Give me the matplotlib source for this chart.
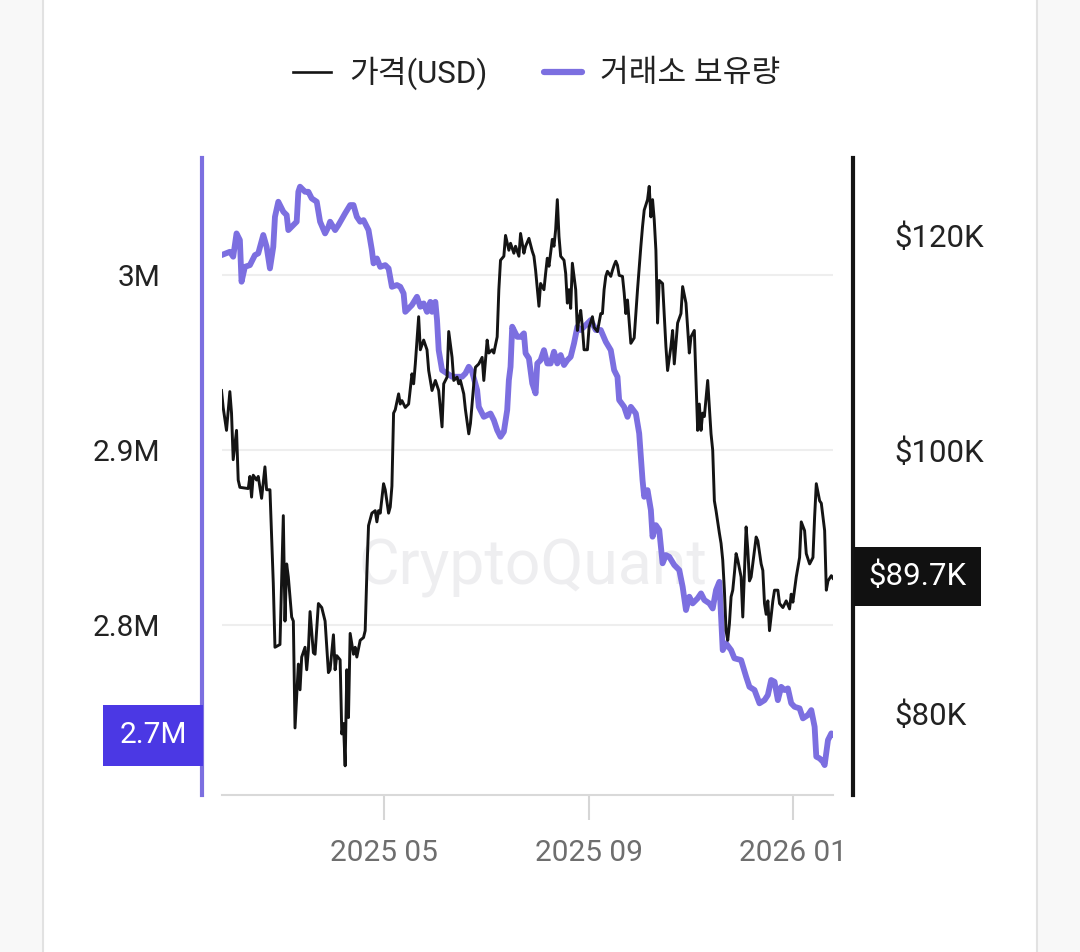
import matplotlib
matplotlib.use('Agg')
import matplotlib.pyplot as plt
import matplotlib.dates as mdates
from matplotlib.ticker import FixedLocator, FuncFormatter, NullLocator
from matplotlib.patches import Rectangle
from matplotlib.lines import Line2D
import pandas as pd

plt.rcParams['font.family'] = ['Roboto', 'Noto Sans CJK KR', 'DejaVu Sans']

# ---------------- data ----------------
BASE_DATE = pd.Timestamp('2025-01-01')  # day numbers below are days since this date

price_day = [23, 24, 26, 28, 29, 30, 32, 33, 34, 39, 40, 41, 42, 44, 45, 47, 49, 50, 52, 54,
             55, 58, 60, 61, 62, 63, 65, 66, 67, 69, 70, 71, 73, 74, 75, 76, 78, 79, 81, 83,
             85, 87, 88, 90, 91, 92, 94, 95, 96, 97, 98, 99, 100, 102, 103, 104, 106, 108, 109, 110,
             111, 113, 115, 116, 117, 118, 120, 121, 123, 124, 125, 126, 127, 129, 130, 131, 133, 135, 137, 138,
             139, 141, 142, 144, 146, 147, 149, 151, 153, 155, 156, 158, 159, 161, 162, 164, 165, 166, 168, 169,
             171, 172, 174, 175, 177, 179, 180, 182, 183, 185, 186, 188, 189, 190, 192, 193, 195, 196, 198, 199,
             201, 202, 204, 205, 207, 209, 210, 211, 213, 214, 216, 217, 218, 219, 221, 222, 223, 224, 225, 226,
             228, 229, 230, 231, 232, 233, 235, 236, 237, 238, 239, 240, 242, 243, 245, 246, 248, 250, 251, 252,
             253, 254, 256, 257, 258, 259, 260, 261, 263, 264, 265, 266, 268, 270, 271, 272, 274, 275, 276, 278,
             279, 280, 281, 282, 283, 284, 285, 287, 289, 290, 292, 293, 294, 296, 298, 299, 301, 303, 304, 306,
             308, 309, 310, 311, 312, 314, 316, 317, 318, 319, 321, 322, 323, 324, 325, 326, 327, 328, 329, 330,
             331, 332, 334, 335, 337, 338, 339, 340, 342, 343, 344, 346, 347, 348, 349, 350, 351, 353, 354, 356,
             357, 359, 361, 363, 364, 365, 367, 369, 370, 372, 373, 375, 377, 378, 379, 381, 382, 384, 385, 386,
             388, 389]
price_k = [105.2, 103.7, 101.7, 105.1, 103.2, 99.2, 101.7, 97.5, 96.9, 96.8, 97.8, 96.1, 97.9, 97.5, 97.8, 96.0, 98.6, 96.7, 96.7, 89.3,
           84.6, 84.8, 94.6, 86.5, 90.8, 89.8, 86.8, 86.5, 79.0, 83.4, 81.6, 83.9, 84.6, 83.0, 84.4, 87.2, 84.2, 84.1, 87.8, 87.5,
           86.5, 82.8, 83.0, 85.5, 83.0, 84.0, 83.7, 78.6, 79.3, 76.5, 83.0, 79.7, 85.6, 84.1, 84.6, 83.9, 85.1, 85.3, 85.8, 90.1,
           93.8, 94.8, 95.0, 94.1, 95.0, 94.8, 97.2, 96.7, 94.8, 95.3, 97.0, 103.2, 103.5, 104.9, 104.0, 104.3, 103.7, 104.0, 106.7, 105.8,
           107.6, 112.0, 108.9, 109.8, 108.9, 107.0, 105.2, 106.1, 105.2, 102.0, 105.8, 106.4, 110.6, 108.2, 106.1, 106.4, 105.8, 106.1, 104.9, 103.5,
           101.4, 102.3, 105.8, 107.3, 107.6, 108.2, 106.1, 109.8, 108.6, 108.9, 108.6, 110.1, 114.6, 117.5, 117.9, 120.0, 118.5, 119.2, 118.2, 118.9,
           117.9, 120.2, 118.2, 118.9, 119.7, 118.4, 117.9, 116.5, 113.0, 115.2, 114.6, 116.2, 117.7, 116.9, 119.6, 118.9, 120.6, 123.7, 119.9, 117.9,
           117.5, 116.2, 113.3, 114.6, 112.8, 117.2, 114.6, 110.7, 111.8, 112.6, 111.0, 108.9, 108.9, 111.0, 112.0, 111.0, 110.6, 112.3, 112.3, 114.6,
           115.9, 116.4, 115.9, 116.5, 117.0, 117.4, 117.0, 116.0, 115.9, 114.3, 112.3, 113.6, 109.5, 110.0, 112.3, 114.6, 118.9, 120.9, 122.6, 123.7,
           125.1, 121.9, 123.7, 121.6, 118.5, 111.4, 115.5, 115.2, 109.2, 107.0, 109.2, 110.7, 107.6, 111.4, 112.3, 114.9, 113.3, 108.6, 110.1, 110.7,
           101.7, 104.0, 101.7, 103.2, 102.9, 106.1, 101.4, 100.0, 95.8, 95.0, 93.2, 92.4, 91.1, 88.8, 85.8, 85.1, 86.3, 88.3, 88.8, 90.1,
           91.6, 91.1, 89.8, 86.8, 93.7, 91.9, 89.5, 89.8, 91.9, 92.9, 92.6, 90.8, 90.3, 87.8, 87.0, 88.0, 85.8, 88.0, 88.8, 88.8,
           87.8, 87.5, 88.0, 87.4, 88.5, 87.9, 89.8, 91.3, 94.1, 93.4, 91.6, 90.8, 91.3, 94.5, 97.2, 95.8, 95.6, 93.4, 88.8, 89.5,
           89.9, 89.7]

reserve_day = [23, 28, 30, 32, 34, 35, 37, 40, 43, 45, 48, 50, 52, 54, 55, 57, 60, 62, 63, 66,
               68, 69, 70, 73, 75, 77, 80, 82, 85, 87, 88, 91, 93, 97, 100, 102, 104, 106, 108, 111,
               113, 114, 116, 118, 121, 123, 125, 128, 130, 132, 133, 137, 140, 142, 144, 146, 148, 149, 151, 152,
               153, 155, 158, 161, 164, 167, 169, 171, 173, 176, 177, 180, 184, 186, 188, 190, 192, 194, 195, 196,
               197, 198, 200, 202, 204, 205, 207, 209, 211, 212, 214, 216, 218, 220, 222, 224, 226, 228, 230, 232,
               234, 236, 238, 241, 244, 247, 250, 253, 256, 258, 260, 261, 264, 266, 268, 271, 273, 275, 276, 278,
               280, 281, 283, 285, 287, 289, 291, 294, 297, 299, 301, 303, 305, 308, 310, 312, 315, 317, 319, 321,
               322, 323, 325, 328, 330, 334, 337, 339, 342, 345, 348, 350, 352, 354, 356, 358, 360, 362, 364, 366,
               369, 371, 374, 376, 378, 379, 381, 383, 384, 386, 388, 389]
reserve_mbtc = [3.0114, 3.0133, 3.0105, 3.0238, 3.0200, 2.9962, 3.0047, 3.0057, 3.0114, 3.0124, 3.0229, 3.0162, 3.0038, 3.0162, 3.0333, 3.0419, 3.0362, 3.0343, 3.0257, 3.0286,
                3.0305, 3.0476, 3.0505, 3.0476, 3.0476, 3.0438, 3.0419, 3.0305, 3.0238, 3.0276, 3.0305, 3.0257, 3.0286, 3.0353, 3.0400, 3.0400, 3.0333, 3.0305, 3.0314, 3.0257,
                3.0143, 3.0067, 3.0095, 3.0047, 3.0057, 3.0038, 2.9933, 2.9943, 2.9933, 2.9895, 2.9790, 2.9829, 2.9876, 2.9819, 2.9838, 2.9790, 2.9847, 2.9790, 2.9847, 2.9743,
                2.9571, 2.9457, 2.9438, 2.9419, 2.9419, 2.9419, 2.9438, 2.9476, 2.9447, 2.9343, 2.9247, 2.9190, 2.9209, 2.9171, 2.9114, 2.9076, 2.9105, 2.9229, 2.9400, 2.9476,
                2.9705, 2.9686, 2.9647, 2.9647, 2.9667, 2.9553, 2.9524, 2.9381, 2.9324, 2.9495, 2.9514, 2.9571, 2.9495, 2.9495, 2.9562, 2.9495, 2.9543, 2.9486, 2.9514, 2.9533,
                2.9610, 2.9705, 2.9686, 2.9714, 2.9743, 2.9686, 2.9686, 2.9619, 2.9571, 2.9457, 2.9419, 2.9286, 2.9247, 2.9190, 2.9247, 2.9209, 2.9095, 2.8829, 2.8733, 2.8771,
                2.8657, 2.8505, 2.8571, 2.8543, 2.8353, 2.8400, 2.8390, 2.8343, 2.8314, 2.8219, 2.8086, 2.8162, 2.8124, 2.8153, 2.8181, 2.8143, 2.8124, 2.8095, 2.8200, 2.8247,
                2.8047, 2.7857, 2.7895, 2.7857, 2.7810, 2.7800, 2.7705, 2.7647, 2.7629, 2.7553, 2.7571, 2.7600, 2.7686, 2.7676, 2.7571, 2.7647, 2.7629, 2.7638, 2.7553, 2.7533,
                2.7524, 2.7467, 2.7486, 2.7514, 2.7419, 2.7248, 2.7238, 2.7219, 2.7200, 2.7343, 2.7381, 2.7371]

x_tick_dates = ['2025-05-01', '2025-09-01', '2026-01-01']
left_ticks = [2.8, 2.9, 3.0]
right_ticks_k = [80, 100, 120]
legend_labels = ['가격(USD)', '거래소 보유량']
watermark = 'CryptoQuant'

# ---------------- styling ----------------
PURPLE = '#7c6fe0'
BOX_PURPLE = '#4b38e4'
BLACK = '#141414'
W, H = 1080, 952

price_dates = BASE_DATE + pd.to_timedelta(price_day, unit='D')
reserve_dates = BASE_DATE + pd.to_timedelta(reserve_day, unit='D')
price_usd = [p * 1000 for p in price_k]

fig = plt.figure(figsize=(W / 100, H / 100), dpi=100)
fig.patch.set_facecolor('#f8f8f8')
fig.add_artist(Rectangle((43 / W, 0), (1036 - 43) / W, 1, transform=fig.transFigure,
                         facecolor='white', edgecolor='none', zorder=-5))
for xb in (42.5, 1036.5):
    fig.add_artist(Line2D([xb / W, xb / W], [0, 1], transform=fig.transFigure,
                          color='#e2e2e2', lw=1.5, zorder=-4))

ax = fig.add_axes([222 / W, 1 - 795 / H, (833 - 222) / W, (795 - 158) / H])
ax.set_facecolor('none')
ax2 = ax.twinx()

# watermark
ax.text(533 / W, 1 - 568 / H, watermark, transform=fig.transFigure, ha='center', va='center',
        fontsize=45, color='#eeeef0', zorder=0.5)

# lines
ax.plot(reserve_dates, reserve_mbtc, color=PURPLE, lw=4.2, solid_joinstyle='round',
        solid_capstyle='round', zorder=2)
ax2.plot(price_dates, price_usd, color=BLACK, lw=2.1, solid_joinstyle='round', zorder=3)

# x axis
ax.set_xlim(BASE_DATE + pd.Timedelta(days=23.3), BASE_DATE + pd.Timedelta(days=389.0))
ax.xaxis.set_major_locator(FixedLocator(mdates.date2num(pd.to_datetime(x_tick_dates))))
ax.xaxis.set_major_formatter(mdates.DateFormatter('%Y %m'))
ax.xaxis.set_minor_locator(NullLocator())
ax.tick_params(axis='x', length=18, width=1.5, color='#d6d6d6', pad=14,
               labelsize=21.5, labelcolor='#6e6e6e')

# left axis (reserve)
ax.set_ylim(2.7029, 3.0669)
ax.yaxis.set_major_locator(FixedLocator(left_ticks))
ax.yaxis.set_major_formatter(FuncFormatter(lambda v, p: f'{v:g}M'))
ax.tick_params(axis='y', length=0, pad=30, labelsize=21.5, labelcolor='#222222')
ax.grid(axis='y', color='#eeeeee', lw=1.5, zorder=0)
ax.set_axisbelow(True)

for s in ('top', 'right'):
    ax.spines[s].set_visible(False)
ax.spines['left'].set_position(('outward', 14.4))
ax.spines['left'].set_color(PURPLE)
ax.spines['left'].set_linewidth(3)
ax.spines['bottom'].set_color('#d9d9d9')
ax.spines['bottom'].set_linewidth(1.5)

# right axis (price, log)
ax2.set_yscale('log')
ax2.set_ylim(74630, 128150)
ax2.yaxis.set_major_locator(FixedLocator([t * 1000 for t in right_ticks_k]))
ax2.yaxis.set_minor_locator(NullLocator())
ax2.yaxis.set_major_formatter(FuncFormatter(lambda v, p: f'${v / 1000:.0f}K'))
ax2.tick_params(axis='y', length=0, pad=30, labelsize=22.5, labelcolor='#222222')
for s in ('top', 'left', 'bottom'):
    ax2.spines[s].set_visible(False)
ax2.spines['right'].set_position(('outward', 14.4))
ax2.spines['right'].set_color(BLACK)
ax2.spines['right'].set_linewidth(3)

# last-value boxes
ax.annotate(f'{reserve_mbtc[-1]:.1f}M', xy=(0, reserve_mbtc[-1]), xycoords=('axes fraction', 'data'),
            xytext=(-25.4, 0), textcoords='offset points', ha='right', va='center',
            color='white', fontsize=21.5, annotation_clip=False,
            bbox=dict(boxstyle='square,pad=0.55', fc=BOX_PURPLE, ec='none'))
ax2.annotate(f'${price_k[-1]:.1f}K', xy=(1, price_usd[-1]), xycoords=('axes fraction', 'data'),
             xytext=(25.5, 1.5), textcoords='offset points', ha='left', va='center',
             color='white', fontsize=22.5, annotation_clip=False,
             bbox=dict(boxstyle='square,pad=0.47', fc='#111111', ec='none'))

# legend
handles = [Line2D([], [], color=BLACK, lw=1.9), Line2D([], [], color=PURPLE, lw=4.5, solid_capstyle='round')]
fig.legend(handles, legend_labels, loc='center', bbox_to_anchor=(537 / W, 1 - 73 / H), ncol=2,
           frameon=False, fontsize=22.5, handlelength=1.2, handletextpad=0.6, columnspacing=1.8,
           labelcolor='#222222')

fig.savefig('out.png', dpi=100, facecolor=fig.get_facecolor())
